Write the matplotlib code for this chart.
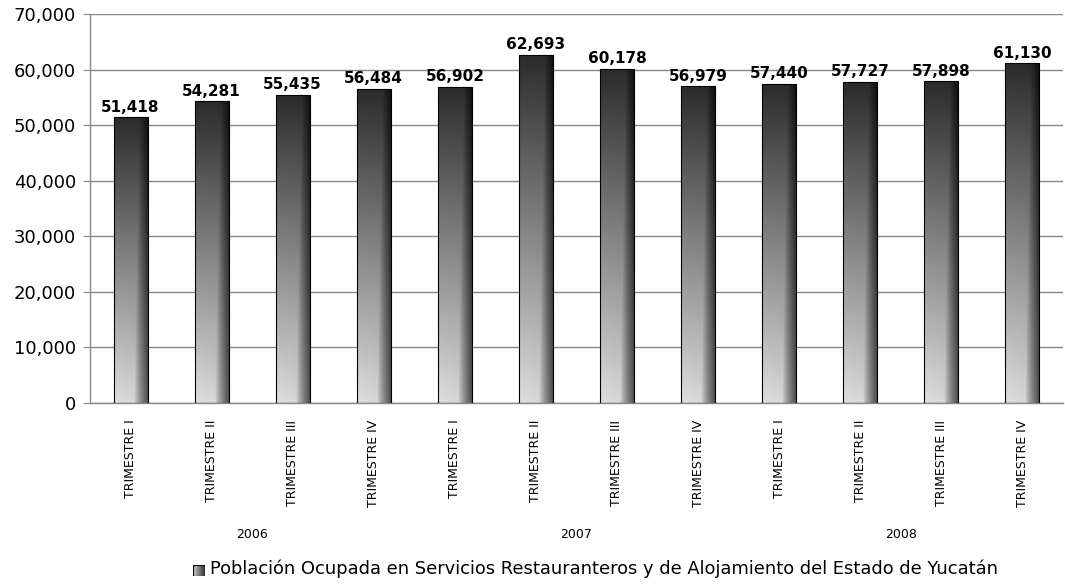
import numpy as np
import matplotlib
matplotlib.use("Agg")
import matplotlib.pyplot as plt
from matplotlib.patches import Rectangle

# data
trimestres = ["TRIMESTRE I", "TRIMESTRE II", "TRIMESTRE III", "TRIMESTRE IV"] * 3
years = ["2006", "2007", "2008"]
values = [51418, 54281, 55435, 56484, 56902, 62693, 60178, 56979, 57440, 57727, 57898, 61130]
legend_label = "Población Ocupada en Servicios Restauranteros y de Alojamiento del Estado de Yucatán"

plt.rcParams['font.family'] = ['DejaVu Sans']

def gradient(h=128, w=48):
    # vertical dark->light, with a darker band on the right edge
    yy, xx = np.mgrid[0:1:h*1j, 0:1:w*1j]  # yy=0 is top row
    base = 0.17 + 0.66 * yy + 0.04 * (1 - xx) * yy
    b = 0.58 + 0.17 * (1 - yy)
    shade = np.clip((xx - b) / (1 - b), 0, 1)
    v = base * (1 - 0.65 * shade ** 0.8)
    v = np.clip(v, 0, 1)
    return np.dstack([v, v, v])

fig = plt.figure(figsize=(10.65, 5.85), dpi=100)
ax = fig.add_axes([0.0845, 0.311, 0.9135, 0.665])

x = np.arange(len(values))
width = 0.42
bars = ax.bar(x, values, width, color='none', edgecolor='black', linewidth=0.8, zorder=3)
grad = gradient()
for b in bars:
    x0, y0 = b.get_x(), b.get_y()
    w, h = b.get_width(), b.get_height()
    im = ax.imshow(grad, extent=(x0, x0 + w, y0, y0 + h), aspect='auto', zorder=2,
                   interpolation='bilinear')
    im.set_clip_path(b)

for xi, v in zip(x, values):
    ax.text(xi, v + 500, f"{v:,}", ha='center', va='bottom', fontsize=11,
            fontweight='bold', zorder=4)

ax.set_xlim(-0.5, len(values) - 0.5)
ax.set_ylim(0, 70000)
ax.set_yticks(np.arange(0, 70001, 10000))
ax.set_yticklabels([f"{t:,}" for t in range(0, 70001, 10000)], fontsize=13)
ax.yaxis.grid(True, color='#888888', linewidth=1.0, zorder=0)
ax.set_axisbelow(True)
ax.tick_params(axis='y', length=5, color='#888888', pad=5)
ax.tick_params(axis='x', length=0, pad=12)
ax.set_xticks(x)
ax.set_xticklabels(trimestres, rotation=90, fontsize=9)
for s in ['top', 'right']:
    ax.spines[s].set_visible(False)
for s in ['left', 'bottom']:
    ax.spines[s].set_color('#888888')
    ax.spines[s].set_linewidth(1.0)

# year group labels
for i, yr in enumerate(years):
    cx = x[i * 4:(i + 1) * 4].mean()
    ax.text(cx, -0.338, yr, transform=ax.get_xaxis_transform(), ha='center',
            va='center', fontsize=9)

# legend: gradient square (light left -> dark right) plus text
lax = fig.add_axes([193 / 1065, 1 - 576 / 585, 12 / 1065, 11 / 585])
lv = np.tile(np.linspace(0.8, 0.2, 24), (24, 1))
lax.imshow(np.dstack([lv, lv, lv]), aspect='auto', extent=(0, 1, 0, 1),
           interpolation='bilinear')
lax.add_patch(Rectangle((0, 0), 1, 1, fill=False, edgecolor='black', linewidth=0.8))
lax.set_xticks([])
lax.set_yticks([])
for s in lax.spines.values():
    s.set_visible(False)
fig.text(210 / 1065, 1 - 569 / 585, legend_label, ha='left', va='center', fontsize=12.9)

fig.savefig("out.png", dpi=100)
